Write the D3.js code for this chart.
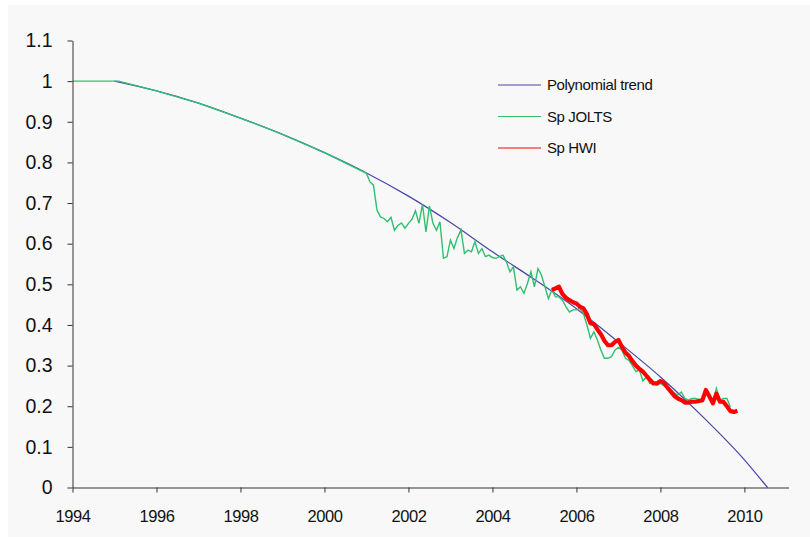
<!DOCTYPE html>
<html lang="en">
<head>
<meta charset="utf-8">
<title>Sp JOLTS / Sp HWI</title>
<script src="https://cdn.jsdelivr.net/npm/d3@7"></script>
<style>
  body { margin: 0; background: #fff; }
  svg { display: block; }
  .tick text, .legend text { font-family: "Liberation Sans", Arial, sans-serif; fill: #111; }
  .domain, .tick line { stroke: #333; }
</style>
</head>
<body>
<div id="chart"></div>
<script>
var w = 810, h = 537;

// trend (yearly reading of the polynomial line)
var trendYears = [1995, 1996, 1997, 1998, 1999, 2000, 2001, 2002, 2003, 2004, 2005, 2006, 2007, 2008, 2009, 2010, 2010.55];
var trendValues = [1.0, 0.976, 0.946, 0.909, 0.869, 0.824, 0.774, 0.717, 0.652, 0.58, 0.512, 0.44, 0.358, 0.272, 0.175, 0.068, 0];

// Sp JOLTS: backcast part, then monthly from 2001
var joltsEarlyYears = [1994, 1995.1, 1996, 1997, 1998, 1999, 2000];
var joltsEarlyValues = [1, 1, 0.976, 0.946, 0.909, 0.869, 0.824];
var joltsStart = 2001;
var joltsMonthly = [
  0.773, 0.752, 0.744, 0.683, 0.666, 0.662, 0.654, 0.665, 0.633, 0.645, 0.651, 0.638,
  0.650, 0.660, 0.681, 0.650, 0.697, 0.629, 0.693, 0.650, 0.633, 0.654, 0.564, 0.568,
  0.609, 0.588, 0.615, 0.634, 0.576, 0.584, 0.580, 0.605, 0.576, 0.588, 0.568, 0.572,
  0.566, 0.564, 0.568, 0.572, 0.555, 0.531, 0.543, 0.486, 0.494, 0.478, 0.502, 0.531,
  0.494, 0.539, 0.523, 0.494, 0.465, 0.486, 0.469, 0.469, 0.461, 0.445, 0.432, 0.437,
  0.437, 0.441, 0.428, 0.400, 0.367, 0.383, 0.363, 0.338, 0.318, 0.318, 0.322, 0.338,
  0.345, 0.338, 0.318, 0.313, 0.300, 0.285, 0.289, 0.262, 0.272, 0.256, 0.260, 0.252,
  0.256, 0.250, 0.246, 0.240, 0.232, 0.228, 0.235, 0.219, 0.215, 0.219, 0.219, 0.217,
  0.211, 0.231, 0.222, 0.211, 0.244, 0.215, 0.219, 0.219, 0.198
];

// Sp HWI: monthly from mid 2005
var hwiStart = 2005 + 5 / 12;
var hwiMonthly = [
  0.486, 0.490, 0.494, 0.476, 0.467, 0.461, 0.456,
  0.453, 0.445, 0.441, 0.426, 0.404, 0.402, 0.389, 0.377, 0.361, 0.350, 0.350, 0.358,
  0.363, 0.346, 0.332, 0.324, 0.311, 0.300, 0.292, 0.285, 0.275, 0.265, 0.256, 0.256,
  0.262, 0.258, 0.246, 0.236, 0.225, 0.219, 0.215, 0.209, 0.209, 0.211, 0.211, 0.213,
  0.215, 0.240, 0.224, 0.207, 0.231, 0.211, 0.211, 0.200, 0.188, 0.186, 0.189
];

var xTicks = [1994, 1996, 1998, 2000, 2002, 2004, 2006, 2008, 2010];
var yTicks = [0, 0.1, 0.2, 0.3, 0.4, 0.5, 0.6, 0.7, 0.8, 0.9, 1, 1.1];
var yTickLabels = ["0", "0.1", "0.2", "0.3", "0.4", "0.5", "0.6", "0.7", "0.8", "0.9", "1", "1.1"];

var seriesNames = ["Polynomial trend", "Sp JOLTS", "Sp HWI"];
var seriesColors = ["#4646a8", "#2fc070", "#ff0000"];

var trend = trendYears.map(function(t, i) { return [t, trendValues[i]]; });
var jolts = joltsEarlyYears.map(function(t, i) { return [t, joltsEarlyValues[i]]; })
  .concat(joltsMonthly.map(function(v, i) { return [joltsStart + i / 12, v]; }));
var hwi = hwiMonthly.map(function(v, i) { return [hwiStart + i / 12, v]; });

var x = d3.scaleLinear().domain([1994, 2011.05]).range([72.5, 788.5]);
var y = d3.scaleLinear().domain([0, 1.1]).range([487.5, 40.5]);

var svg = d3.select("#chart").append("svg")
  .attr("width", w)
  .attr("height", h);

svg.append("rect").attr("width", w).attr("height", h).attr("fill", "#fff");
svg.append("rect")
  .attr("x", 8).attr("y", 5)
  .attr("width", w - 8).attr("height", h - 5)
  .attr("fill", "#f8f8f8");

var line = d3.line()
  .x(function(d) { return x(d[0]); })
  .y(function(d) { return y(d[1]); });

svg.append("path")
  .datum(trend)
  .attr("d", line.curve(d3.curveMonotoneX))
  .attr("fill", "none")
  .attr("stroke", seriesColors[0])
  .attr("stroke-width", 1.2);

line.curve(d3.curveLinear);

svg.append("path")
  .datum(jolts)
  .attr("d", line)
  .attr("fill", "none")
  .attr("stroke", seriesColors[1])
  .attr("stroke-width", 1.4);

svg.append("path")
  .datum(hwi)
  .attr("d", line)
  .attr("fill", "none")
  .attr("stroke", seriesColors[2])
  .attr("stroke-width", 4.2)
  .attr("stroke-linejoin", "round");

// axes
var yAxis = d3.axisLeft(y)
  .tickValues(yTicks)
  .tickFormat(function(d, i) { return yTickLabels[i]; })
  .tickSize(5)
  .tickSizeOuter(0)
  .tickPadding(15);

svg.append("g")
  .attr("transform", "translate(" + x(1994) + ",0)")
  .call(yAxis)
  .call(function(g) { g.selectAll("text").style("font-size", "19.5px"); });

var xAxis = d3.axisBottom(x)
  .tickValues(xTicks)
  .tickFormat(d3.format("d"))
  .tickSize(5)
  .tickSizeOuter(0)
  .tickPadding(18);

svg.append("g")
  .attr("transform", "translate(0," + y(0) + ")")
  .call(xAxis)
  .call(function(g) { g.selectAll("text").style("font-size", "16.5px").style("letter-spacing", "-0.4px"); });

// legend
var legend = svg.append("g").attr("class", "legend");
seriesNames.forEach(function(name, i) {
  var ly = 85 + i * 31.5;
  legend.append("line")
    .attr("x1", 498).attr("x2", 541)
    .attr("y1", ly).attr("y2", ly)
    .attr("stroke", seriesColors[i])
    .attr("stroke-width", 1.2);
  legend.append("text")
    .attr("x", 547)
    .attr("y", ly)
    .attr("dy", "0.35em")
    .style("font-size", "15px")
    .style("letter-spacing", "-0.4px")
    .text(name);
});
</script>
</body>
</html>
